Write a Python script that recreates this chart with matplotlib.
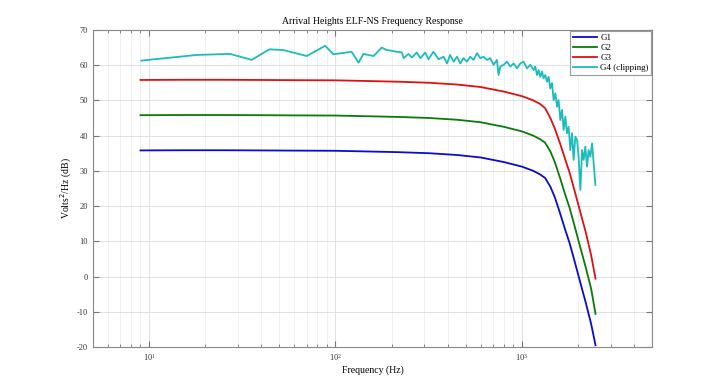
import matplotlib
matplotlib.use("Agg")
import matplotlib.pyplot as plt
from matplotlib.ticker import LogLocator, NullFormatter, MultipleLocator

plt.rcParams['font.family'] = ['Liberation Serif', 'DejaVu Serif']
plt.rcParams['axes.unicode_minus'] = False

# --- smooth gain curves ---
freq_g = [9, 15, 25, 40, 60, 100, 150, 220, 320, 450, 600, 800, 1000, 1150,
          1250, 1330, 1420, 1500, 1600, 1700, 1800, 1900, 2050, 2200, 2350, 2480]
g1_db = [35.8, 35.85, 35.85, 35.8, 35.75, 35.7, 35.5, 35.3, 35.0, 34.5, 33.8,
         32.5, 31.2, 30.0, 29.0, 28.0, 25.5, 22.5, 18.0, 13.5, 9.5, 5.0, -1.5,
         -7.5, -13.5, -19.5]
g2_db = [45.8, 45.85, 45.85, 45.8, 45.75, 45.7, 45.5, 45.3, 45.0, 44.5, 43.8,
         42.5, 41.2, 40.0, 39.0, 38.0, 35.5, 32.5, 28.0, 23.5, 19.5, 15.0, 8.5,
         2.5, -3.5, -10.6]
g3_db = [55.8, 55.85, 55.85, 55.8, 55.75, 55.7, 55.5, 55.3, 55.0, 54.5, 53.8,
         52.5, 51.2, 50.0, 49.0, 47.8, 45.0, 42.0, 37.8, 33.5, 29.5, 25.0, 18.5,
         12.5, 6.0, -0.6]

# --- noisy G4 (clipping) trace ---
freq_g4 = [9.1, 18.0, 27.2, 35.5, 44.2, 52.5, 70.1, 88, 97.5, 122, 133, 141,
           160, 177, 188, 200, 213, 227, 232, 246, 257, 273, 285, 303, 315,
           335, 357, 380, 396, 412, 430, 448, 467, 486, 507, 528, 550, 574,
           598, 622, 649, 676, 704, 734, 749, 765, 797, 831, 866, 902, 940,
           980, 1020, 1064, 1108, 1155, 1179, 1204, 1228, 1254, 1281, 1306,
           1334, 1362, 1390, 1419, 1449, 1478, 1510, 1542, 1572, 1606, 1640,
           1673, 1708, 1744, 1779, 1817, 1855, 1892, 1933, 1974, 2013, 2056,
           2100, 2142, 2187, 2233, 2278, 2326, 2376, 2423, 2475]
g4_db = [61.3, 62.9, 63.2, 61.5, 64.5, 64.3, 62.6, 65.5, 63.1, 63.8, 60.7,
         63.2, 62.6, 65.0, 64.3, 64.1, 63.8, 63.6, 62.0, 63.2, 62.2, 63.6,
         62.0, 63.6, 61.7, 63.8, 61.7, 62.4, 60.5, 62.9, 61.0, 62.4, 60.5,
         62.0, 61.0, 62.4, 61.5, 63.4, 62.0, 62.4, 61.5, 62.0, 60.1, 61.5,
         57.2, 59.6, 60.1, 61.0, 59.6, 60.5, 59.1, 60.5, 61.0, 59.1, 60.1,
         58.6, 59.6, 57.2, 58.6, 56.7, 58.2, 56.3, 57.2, 55.3, 56.7, 53.4,
         54.9, 50.1, 52.0, 48.2, 50.1, 44.4, 47.3, 41.6, 45.4, 40.7, 42.5,
         35.9, 40.7, 33.1, 39.7, 38.8, 34.0, 24.6, 35.9, 33.1, 36.9, 31.2,
         35.9, 34.0, 37.8, 32.2, 26.0]

fig = plt.figure(figsize=(7.2, 3.89), dpi=100)
ax = fig.add_axes([0.129, 0.108, 0.777, 0.815])

ax.plot(freq_g, g1_db, color='#0a0ad0', lw=1.3, label='G1')
ax.plot(freq_g, g2_db, color='#0a7a0a', lw=1.3, label='G2')
ax.plot(freq_g, g3_db, color='#e01010', lw=1.3, label='G3')
ax.plot(freq_g4, g4_db, color='#1cbcbc', lw=1.3, label='G4 (clipping)')

ax.set_xscale('log')
ax.set_xlim(5, 5000)
ax.set_ylim(-20, 70)
ax.yaxis.set_major_locator(MultipleLocator(10))
ax.xaxis.set_major_locator(LogLocator(base=10))
ax.xaxis.set_minor_locator(LogLocator(base=10, subs=range(2, 10)))
ax.xaxis.set_minor_formatter(NullFormatter())

ax.grid(True, which='major', color='#dcdcdc', lw=0.6)
ax.grid(True, which='minor', axis='x', color='#ececec', lw=0.5)
ax.tick_params(which='both', direction='in', top=True, right=True,
               labelsize=6, color='#777777', labelcolor='#333333')
ax.tick_params(which='major', length=4)
ax.tick_params(which='minor', length=2)
for s in ax.spines.values():
    s.set_color('#888888')
    s.set_linewidth(0.8)

ax.set_title('Arrival Heights ELF-NS Frequency Response', fontsize=7, pad=4)
ax.set_xlabel('Frequency (Hz)', fontsize=7, labelpad=2)
ax.set_ylabel('Volts$^2$/Hz (dB)', fontsize=7, labelpad=2)

leg = ax.legend(loc='upper right', fontsize=6.5, fancybox=False,
                edgecolor='#999999', framealpha=1, borderpad=0.3,
                handlelength=2.6, labelspacing=0.2, handletextpad=0.4,
                borderaxespad=0.1)
leg.get_frame().set_linewidth(0.8)

fig.savefig('out.png', dpi=100)
